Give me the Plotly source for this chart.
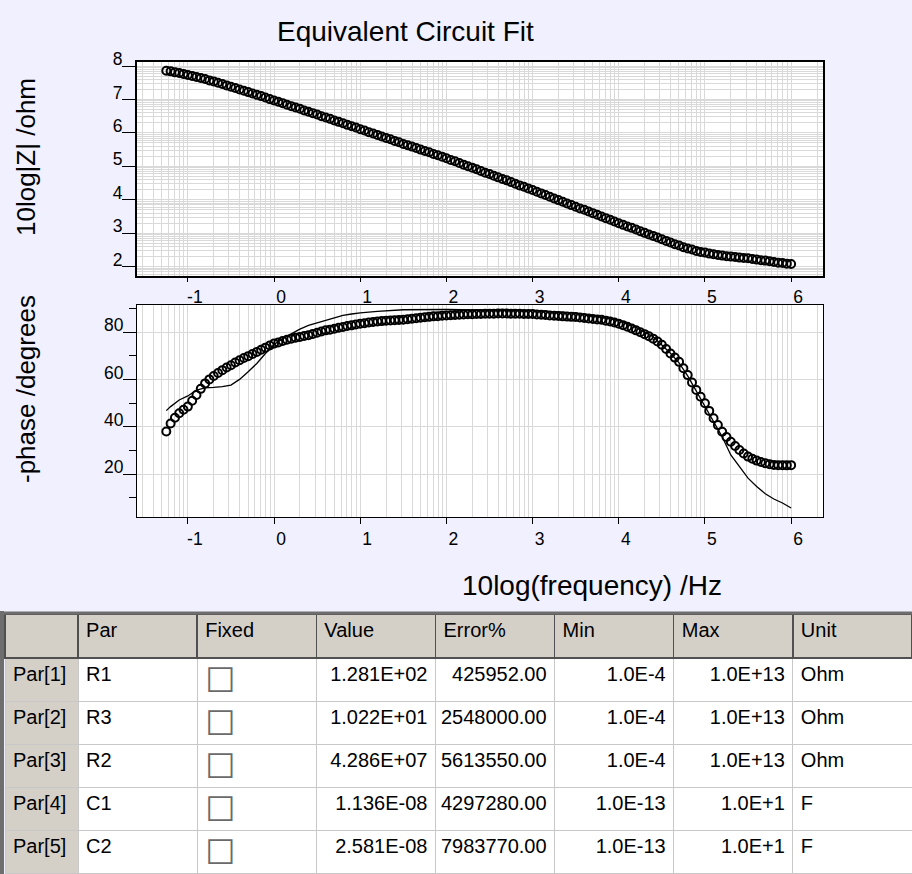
import numpy as np
import plotly.graph_objects as go

# log10 of frequency (Hz) for the measured points
log_f = [
    -1.25, -1.20, -1.15, -1.10, -1.05, -1.00, -0.95, -0.90, -0.85, -0.80,
    -0.75, -0.70, -0.65, -0.60, -0.55, -0.50, -0.45, -0.40, -0.35, -0.30,
    -0.25, -0.20, -0.15, -0.10, -0.05, 0.00, 0.05, 0.10, 0.15, 0.20,
    0.25, 0.30, 0.35, 0.40, 0.45, 0.50, 0.55, 0.60, 0.65, 0.70,
    0.75, 0.80, 0.85, 0.90, 0.95, 1.00, 1.05, 1.10, 1.15, 1.20,
    1.25, 1.30, 1.35, 1.40, 1.45, 1.50, 1.55, 1.60, 1.65, 1.70,
    1.75, 1.80, 1.85, 1.90, 1.95, 2.00, 2.05, 2.10, 2.15, 2.20,
    2.25, 2.30, 2.35, 2.40, 2.45, 2.50, 2.55, 2.60, 2.65, 2.70,
    2.75, 2.80, 2.85, 2.90, 2.95, 3.00, 3.05, 3.10, 3.15, 3.20,
    3.25, 3.30, 3.35, 3.40, 3.45, 3.50, 3.55, 3.60, 3.65, 3.70,
    3.75, 3.80, 3.85, 3.90, 3.95, 4.00, 4.05, 4.10, 4.15, 4.20,
    4.25, 4.30, 4.35, 4.40, 4.45, 4.50, 4.55, 4.60, 4.65, 4.70,
    4.75, 4.80, 4.85, 4.90, 4.95, 5.00, 5.05, 5.10, 5.15, 5.20,
    5.25, 5.30, 5.35, 5.40, 5.45, 5.50, 5.55, 5.60, 5.65, 5.70,
    5.75, 5.80, 5.85, 5.90, 5.95, 6.00,
]

# log10|Z| (ohm)
log_z = [
    7.86, 7.84, 7.81, 7.79, 7.76, 7.73, 7.70, 7.67, 7.64, 7.61,
    7.57, 7.54, 7.50, 7.46, 7.42, 7.38, 7.34, 7.30, 7.26, 7.22,
    7.18, 7.14, 7.10, 7.06, 7.01, 6.97, 6.93, 6.89, 6.84, 6.80,
    6.76, 6.72, 6.67, 6.63, 6.59, 6.55, 6.50, 6.46, 6.42, 6.37,
    6.33, 6.29, 6.24, 6.20, 6.16, 6.11, 6.07, 6.02, 5.98, 5.94,
    5.89, 5.85, 5.81, 5.76, 5.72, 5.67, 5.63, 5.59, 5.55, 5.50,
    5.46, 5.42, 5.37, 5.33, 5.29, 5.24, 5.19, 5.15, 5.10, 5.05,
    5.00, 4.96, 4.91, 4.86, 4.81, 4.77, 4.72, 4.67, 4.62, 4.58,
    4.53, 4.48, 4.43, 4.39, 4.34, 4.29, 4.24, 4.19, 4.14, 4.09,
    4.04, 3.99, 3.94, 3.89, 3.84, 3.79, 3.74, 3.70, 3.65, 3.60,
    3.55, 3.50, 3.45, 3.40, 3.35, 3.30, 3.25, 3.20, 3.16, 3.11,
    3.06, 3.01, 2.96, 2.92, 2.87, 2.82, 2.77, 2.72, 2.67, 2.63,
    2.58, 2.54, 2.51, 2.47, 2.44, 2.42, 2.39, 2.37, 2.35, 2.33,
    2.31, 2.30, 2.29, 2.27, 2.26, 2.25, 2.23, 2.21, 2.19, 2.18,
    2.16, 2.14, 2.12, 2.11, 2.09, 2.08,
]

# -phase (degrees)
phase = [
    38.0, 41.4, 43.8, 45.7, 47.2, 48.5, 51.0, 53.4, 56.0, 58.3,
    60.0, 61.4, 62.7, 63.9, 65.0, 66.0, 67.1, 68.1, 69.0, 69.8,
    70.7, 71.6, 72.5, 73.4, 74.3, 75.1, 75.6, 76.2, 76.7, 77.2,
    77.6, 77.9, 78.3, 78.6, 79.2, 79.7, 80.2, 80.7, 81.0, 81.4,
    81.8, 82.1, 82.5, 82.8, 83.2, 83.5, 83.7, 84.0, 84.2, 84.4,
    84.6, 84.8, 84.9, 85.0, 85.1, 85.2, 85.4, 85.6, 85.8, 86.0,
    86.2, 86.4, 86.6, 86.7, 86.9, 87.0, 87.1, 87.2, 87.3, 87.4,
    87.5, 87.5, 87.6, 87.6, 87.7, 87.7, 87.7, 87.8, 87.8, 87.8,
    87.7, 87.7, 87.7, 87.6, 87.6, 87.6, 87.4, 87.3, 87.2, 87.0,
    86.9, 86.8, 86.6, 86.5, 86.4, 86.3, 86.1, 85.9, 85.7, 85.5,
    85.3, 85.2, 84.8, 84.4, 84.0, 83.5, 82.9, 82.2, 81.5, 80.7,
    79.9, 79.1, 78.2, 77.2, 76.0, 74.6, 72.8, 70.9, 69.2, 67.4,
    64.7, 61.8, 58.7, 55.5, 52.7, 49.9, 46.7, 43.6, 40.7, 37.9,
    35.7, 33.7, 31.9, 30.2, 28.7, 27.4, 26.5, 25.7, 25.1, 24.6,
    24.2, 23.9, 23.8, 23.8, 23.7, 23.8,
]

# fitted phase curve
fit_log_f = [
    -1.25, -1.20, -1.10, -1.00, -0.90, -0.80, -0.70, -0.60, -0.50, -0.40,
    -0.30, -0.20, -0.10, 0.00, 0.10, 0.20, 0.30, 0.40, 0.50, 0.60,
    0.70, 0.80, 0.90, 1.00, 1.20, 1.50, 2.00, 2.50, 3.00, 3.50,
    4.00, 4.20, 4.40, 4.60, 4.70, 4.80, 4.90, 5.00, 5.10, 5.20,
    5.30, 5.40, 5.50, 5.60, 5.70, 5.80, 5.90, 6.00,
]
fit_phase = [
    46.8, 48.5, 51.3, 53.0, 55.5, 56.4, 56.6, 56.9, 57.6, 60.0,
    63.2, 66.7, 70.9, 74.7, 77.2, 79.3, 81.2, 82.8, 84.0, 84.9,
    86.0, 87.0, 87.6, 88.1, 88.7, 89.4, 89.5, 89.4, 89.0, 88.0,
    85.0, 82.0, 78.0, 71.0, 67.0, 61.5, 55.0, 49.0, 42.1, 35.8,
    28.1, 23.2, 18.3, 14.8, 11.7, 9.5, 7.8, 5.7,
]

# axis ticks
x_ticks = [-1, 0, 1, 2, 3, 4, 5, 6]
x_tick_labels = ["-1", "0", "1", "2", "3", "4", "5", "6"]
z_ticks = [2, 3, 4, 5, 6, 7, 8]
phase_ticks = [20, 40, 60, 80]
phase_minor_ticks = [10, 30, 50, 70, 90]

# parameter table
table_header = ["", "Par", "Fixed", "Value", "Error%", "Min", "Max", "Unit"]
row_labels = ["Par[1]", "Par[2]", "Par[3]", "Par[4]", "Par[5]"]
par_names = ["R1", "R3", "R2", "C1", "C2"]
fixed = [False, False, False, False, False]
par_values = ["1.281E+02", "1.022E+01", "4.286E+07", "1.136E-08", "2.581E-08"]
par_errors = ["425952.00", "2548000.00", "5613550.00", "4297280.00", "7983770.00"]
par_min = ["1.0E-4", "1.0E-4", "1.0E-4", "1.0E-13", "1.0E-13"]
par_max = ["1.0E+13", "1.0E+13", "1.0E+13", "1.0E+1", "1.0E+1"]
par_units = ["Ohm", "Ohm", "Ohm", "F", "F"]

W, H = 912, 874
BG = "#F0F0FE"
GRID = "#D9D9D9"
FONT = "Arial, Liberation Sans, sans-serif"
TICKFONT = dict(family=FONT, size=17.5, color="black")

x_range = [-1.59, 6.37]
x_minor = [n + np.log10(k) for n in range(-2, 7) for k in range(2, 10)]
x_minor = [v for v in x_minor if x_range[0] < v < x_range[1]]
z_range = [1.72, 8.12]
z_minor = [n + np.log10(k) for n in range(1, 9) for k in range(2, 10)]
z_minor = [v for v in z_minor if z_range[0] < v < z_range[1]]

marker = dict(symbol="circle-open", size=8, color="black", line=dict(width=2))

fig = go.Figure()
fig.add_trace(go.Scatter(x=log_f, y=log_z, mode="markers", marker=marker,
                         xaxis="x", yaxis="y"))
fig.add_trace(go.Scatter(x=fit_log_f, y=fit_phase, mode="lines",
                         line=dict(color="black", width=1.3),
                         xaxis="x2", yaxis="y2"))
fig.add_trace(go.Scatter(x=log_f, y=phase, mode="markers", marker=marker,
                         xaxis="x2", yaxis="y2"))

box_text = ["\u2611" if f else "\u2610" for f in fixed]
fig.add_trace(go.Table(
    domain=dict(x=[5 / W, 1], y=[0, 1 - 614 / H]),
    columnwidth=[73, 119, 119, 119, 119, 119, 119, 119],
    header=dict(values=table_header, fill_color="#D4D0C8",
                line=dict(color="#505050", width=1.5), align="left",
                font=dict(family=FONT, size=20, color="black"), height=44),
    cells=dict(values=[row_labels, par_names, box_text, par_values, par_errors,
                       par_min, par_max, par_units],
               fill_color=[["#D4D0C8"] * 5] + [["#FFFFFF"] * 5] * 7,
               line=dict(color="#C8C8C8", width=1),
               align=["left", "left", "left", "right", "right", "right", "right", "left"],
               font=dict(family=[FONT, FONT, "DejaVu Sans", FONT, FONT, FONT, FONT, FONT],
                         size=[20, 20, 34, 20, 20, 20, 20, 20],
                         color=["black", "black", "#6A6A6A", "black", "black", "black", "black", "black"]),
               height=43),
))

xaxis_common = dict(
    range=x_range, tickvals=x_ticks, ticktext=x_tick_labels, ticks="outside",
    tickcolor="black", showgrid=True, gridcolor=GRID, zeroline=False,
    showline=True, linecolor="black", mirror=True, ticklabelshift=7,
    tickfont=TICKFONT, automargin=False,
    minor=dict(tickmode="array", tickvals=x_minor, showgrid=True,
               gridcolor=GRID, ticks=""),
)

fig.update_layout(
    width=W, height=H,
    margin=dict(l=0, r=0, t=0, b=0),
    paper_bgcolor=BG, plot_bgcolor="white",
    showlegend=False,
    font=dict(family=FONT, color="black"),
    xaxis=dict(xaxis_common, domain=[137 / W, 823 / W], anchor="y",
               ticklen=4, linewidth=2),
    yaxis=dict(domain=[1 - 276 / H, 1 - 62 / H], anchor="x", range=z_range,
               tickvals=z_ticks, ticks="outside", ticklen=13,
               tickcolor="black", showgrid=True, gridcolor=GRID,
               zeroline=False, showline=True, linecolor="black", linewidth=2,
               mirror=True, ticklabelshift=-7, ticklabelstandoff=-4,
               tickfont=TICKFONT, automargin=False,
               minor=dict(tickmode="array", tickvals=z_minor, showgrid=True,
                          gridcolor=GRID, ticks="")),
    xaxis2=dict(xaxis_common, domain=[137 / W, 823 / W], anchor="y2",
                ticklen=6, linewidth=1),
    yaxis2=dict(domain=[1 - 517 / H, 1 - 305 / H], anchor="x2",
                range=[1.9, 91.4], tickvals=phase_ticks, ticks="outside",
                ticklen=13, tickcolor="black", showgrid=True, gridcolor=GRID,
                zeroline=False, showline=True, linecolor="black", linewidth=1,
                mirror=True, ticklabelshift=-7, ticklabelstandoff=-4,
                tickfont=TICKFONT, automargin=False,
                minor=dict(tickmode="array", tickvals=phase_minor_ticks,
                           ticks="outside", ticklen=7, tickcolor="black",
                           showgrid=False)),
    shapes=[
        dict(type="line", xref="paper", yref="paper", x0=2 / W, x1=2 / W,
             y0=0, y1=1 - 611 / H, line=dict(color="#6E6E6E", width=4)),
        dict(type="line", xref="paper", yref="paper", x0=0, x1=1,
             y0=1 - 613 / H, y1=1 - 613 / H, line=dict(color="#6E6E6E", width=3)),
    ],
    annotations=[
        dict(text="Equivalent Circuit Fit", x=405 / W, y=1 - 32 / H,
             xref="paper", yref="paper", showarrow=False,
             xanchor="center", yanchor="middle", font=dict(size=28)),
        dict(text="10log|Z| /ohm", x=26 / W, y=1 - 157 / H, textangle=-90,
             xref="paper", yref="paper", showarrow=False,
             xanchor="center", yanchor="middle", font=dict(size=26)),
        dict(text="-phase /degrees", x=26 / W, y=1 - 389 / H, textangle=-90,
             xref="paper", yref="paper", showarrow=False,
             xanchor="center", yanchor="middle", font=dict(size=26)),
        dict(text="10log(frequency) /Hz", x=592 / W, y=1 - 585 / H,
             xref="paper", yref="paper", showarrow=False,
             xanchor="center", yanchor="middle", font=dict(size=28)),
    ],
)

fig.write_html("out.html", config={"displayModeBar": False},
               post_script="document.body.style.margin='0';")
